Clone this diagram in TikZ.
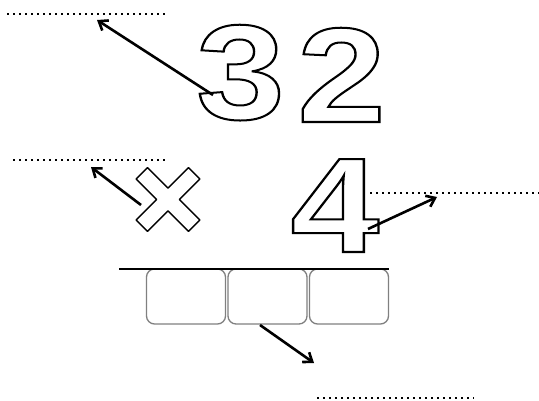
\documentclass[tikz,border=0pt]{standalone}
\usepackage{fontspec}
\setmainfont{Liberation Sans}
\usetikzlibrary{arrows.meta}
\tikzset{
  digit/.style={inner sep=0pt, anchor=base, xscale=1.18, font=\fontsize{135}{135}\bfseries},
  dotline/.style={line width=2pt, dash pattern=on 2pt off 4pt, black},
  pointer/.style={line width=2.6pt, -{Straight Barb[length=8pt,width=12pt,line width=2.6pt]}},
  cell/.style={draw=black!50, line width=1.3pt, rounded corners=8pt, minimum width=79pt, minimum height=55pt, inner sep=0pt},
}
\newcommand{\outl}[1]{\special{pdf:literal direct 1 Tr 2 w}#1\special{pdf:literal direct 0 Tr}}
\begin{document}
\begin{tikzpicture}[x=1pt,y=-1pt]
\useasboundingbox (0,0) rectangle (539,401);
% digits
\node[digit] (three) at (240.5,119) {\outl{3}};
\node[digit] (two) at (341.5,122) {\outl{2}};
\node[digit] (four) at (335,252) {\outl{4}};
% times sign
\begin{scope}[shift={(168,199.5)}, rotate=45]
\draw[line width=1.4pt, line join=round]
  (8,8) -- (37,8) -- (37,-8) -- (8,-8) -- (8,-37) -- (-8,-37) -- (-8,-8) -- (-37,-8) -- (-37,8) -- (-8,8) -- (-8,37) -- (8,37) -- cycle;
\coordinate (times) at (0,0);
\end{scope}
% dotted answer lines
\coordinate (d1a) at (7,14);   \coordinate (d1b) at (166,14);
\coordinate (d2a) at (13,160); \coordinate (d2b) at (168,160);
\coordinate (d3a) at (370,193); \coordinate (d3b) at (539,193);
\coordinate (d4a) at (317,398); \coordinate (d4b) at (474,398);
\draw[dotline] (d1a) -- (d1b);
\draw[dotline] (d2a) -- (d2b);
\draw[dotline] (d3a) -- (d3b);
\draw[dotline] (d4a) -- (d4b);
% rule and cells
\coordinate (ra) at (119,269); \coordinate (rb) at (389,269);
\node[cell] (c1) at (186,296.5) {};
\node[cell] (c2) at (267.5,296.5) {};
\node[cell] (c3) at (349,296.5) {};
\draw[line width=2.2pt] (ra) -- (rb);
% arrows
\coordinate (t1) at (97,20);
\coordinate (t2) at (91,167);
\coordinate (t3) at (437,197);
\coordinate (t4) at (314,363);
\coordinate (s1) at (213,95);
\coordinate (s2) at (141,205);
\coordinate (s3) at (368,229);
\coordinate (s4) at (260,325);
\draw[pointer] (s1) -- (t1);
\draw[pointer] (s2) -- (t2);
\draw[pointer] (s3) -- (t3);
\draw[pointer] (s4) -- (t4);
\end{tikzpicture}
\end{document}
